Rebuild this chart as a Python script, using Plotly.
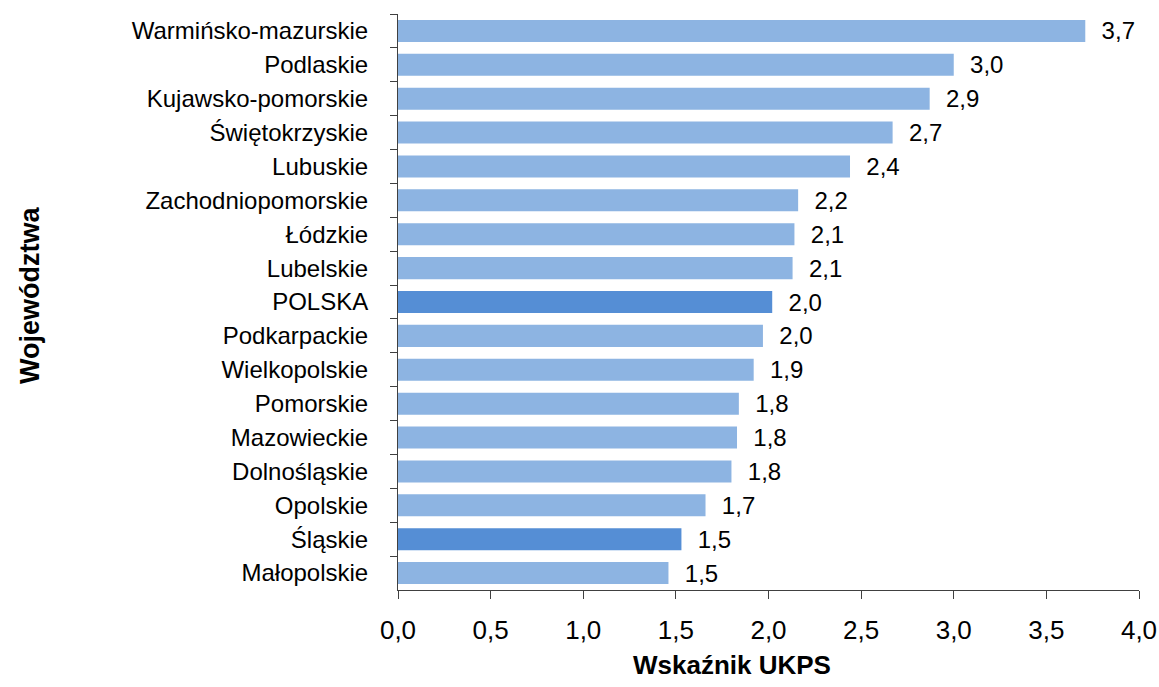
import plotly.graph_objects as go

regions = ["Warmińsko-mazurskie", "Podlaskie", "Kujawsko-pomorskie", "Świętokrzyskie",
           "Lubuskie", "Zachodniopomorskie", "Łódzkie", "Lubelskie", "POLSKA",
           "Podkarpackie", "Wielkopolskie", "Pomorskie", "Mazowieckie", "Dolnośląskie",
           "Opolskie", "Śląskie", "Małopolskie"]
ukps = [3.71, 3.00, 2.87, 2.67, 2.44, 2.16, 2.14, 2.13, 2.02, 1.97, 1.92, 1.84, 1.83,
        1.80, 1.66, 1.53, 1.46]
highlight = ["POLSKA", "Śląskie"]
x_ticks = [0, 0.5, 1, 1.5, 2, 2.5, 3, 3.5, 4]
x_title = "Wskaźnik UKPS"
y_title = "Województwa"

LIGHT = "#8DB4E2"
DARK = "#558ED5"
FONT = "Liberation Sans, Arial, sans-serif"

colors = [DARK if r in highlight else LIGHT for r in regions]

W, H = 1159, 687
L, T = 398, 14
R = W - 1139
B = H - 590
pw, ph = W - L - R, H - T - B

fig = go.Figure(go.Bar(
    x=ukps, y=regions, orientation="h",
    marker=dict(color=colors, line=dict(width=0)),
    texttemplate="  %{x:.1f}", textposition="outside", constraintext="none",
    textfont=dict(family=FONT, size=24, color="#000000"),
    cliponaxis=False,
))

fig.update_layout(
    width=W, height=H,
    margin=dict(l=L, r=R, t=T, b=B),
    plot_bgcolor="white", paper_bgcolor="white",
    separators=", ",
    bargap=0.35,
    showlegend=False,
    font=dict(family=FONT, size=24, color="#000000"),
    xaxis=dict(
        range=[0, 4], tickvals=x_ticks, tickformat=".1f",
        showgrid=False, zeroline=False, automargin=False,
        showline=True, linecolor="#404040", linewidth=1,
        ticks="outside", ticklen=8, tickcolor="#404040",
        ticklabelstandoff=9, ticklabeloverflow="allow",
        tickfont=dict(family=FONT, size=26),
    ),
    yaxis=dict(
        autorange="reversed", type="category",
        showgrid=False, zeroline=False, automargin=False,
        showline=True, linecolor="#404040", linewidth=1,
        ticks="outside", ticklen=7, tickcolor="#404040", tickson="boundaries",
        ticklabelstandoff=24,
        tickfont=dict(family=FONT, size=24),
    ),
    annotations=[
        dict(text="<b>" + x_title + "</b>", xref="paper", yref="paper",
             x=(732 - L) / pw, y=-(665 - (T + ph)) / ph,
             xanchor="center", yanchor="middle",
             showarrow=False, font=dict(family=FONT, size=26, color="#000000")),
        dict(text="<b>" + y_title + "</b>", xref="paper", yref="paper",
             x=(30 - L) / pw, y=1 - (296 - T) / ph,
             xanchor="center", yanchor="middle",
             textangle=-90, showarrow=False, font=dict(family=FONT, size=27, color="#000000")),
    ],
)

fig.write_html(
    "out.html",
    config={"displayModeBar": False},
    post_script="document.body.style.margin='0px';document.body.style.overflow='hidden';",
)
